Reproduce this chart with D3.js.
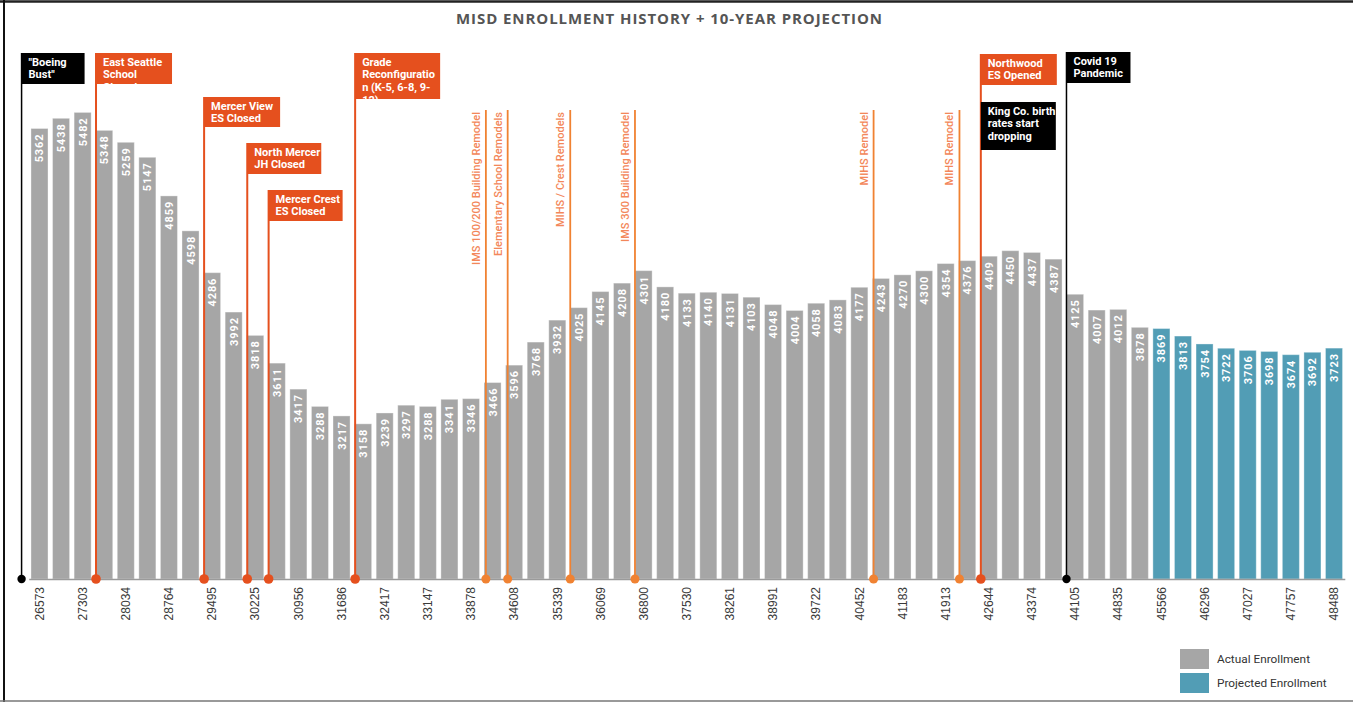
<!DOCTYPE html>
<html>
<head>
<meta charset="utf-8">
<script src="https://cdn.jsdelivr.net/npm/d3@7"></script>
<style>
	body { margin: 0; background: #fff; }
	svg { display: block; }
</style>
</head>
<body>
<svg id="chart" width="1353" height="702"></svg>
<script>
"use strict";

// Data: one bar per school year (Oct 1st), 1972 - 2032
const firstYear = 1972;
const actualEnrollment = [
	5362, 5438, 5482, 5348, 5259, 5147, 4859, 4598, 4286, 3992,
	3818, 3611, 3417, 3288, 3217, 3158, 3239, 3297, 3288, 3341,
	3346, 3466, 3596, 3768, 3932, 4025, 4145, 4208, 4301, 4180,
	4133, 4140, 4131, 4103, 4048, 4004, 4058, 4083, 4177, 4243,
	4270, 4300, 4354, 4376, 4409, 4450, 4437, 4387, 4125, 4007,
	4012, 3878
];
const projectedEnrollment = [3869, 3813, 3754, 3722, 3706, 3698, 3674, 3692, 3723];

// Tick labels (date serials, every second bar)
const tickLabels = [
	"26573", "27303", "28034", "28764", "29495", "30225", "30956", "31686",
	"32417", "33147", "33878", "34608", "35339", "36069", "36800", "37530",
	"38261", "38991", "39722", "40452", "41183", "41913", "42644", "43374",
	"44105", "44835", "45566", "46296", "47027", "47757", "48488"
];

// Events (year as fraction)
const events = [
	{year: 1971.17, kind: "black", lines: ["\"Boeing", "Bust\""]},
	{year: 1974.62, kind: "red", lines: ["East Seattle", "School", "Closed"]},
	{year: 1979.63, kind: "red", lines: ["Mercer View", "ES Closed"]},
	{year: 1981.63, kind: "red", lines: ["North Mercer", "JH Closed"]},
	{year: 1982.62, kind: "red", lines: ["Mercer Crest", "ES Closed"]},
	{year: 1986.63, kind: "red", lines: ["Grade", "Reconfiguratio", "n (K-5, 6-8, 9-", "12)"]},
	{year: 2015.63, kind: "red", lines: ["Northwood", "ES Opened"]},
	{year: 2015.63, kind: "black", lines: ["King Co. birth", "rates start", "dropping"], noLine: true},
	{year: 2019.6, kind: "black", lines: ["Covid 19", "Pandemic"]}
];
const remodels = [
	{year: 1992.69, label: "IMS 100/200 Building Remodel"},
	{year: 1993.7, label: "Elementary School Remodels"},
	{year: 1996.6, label: "MIHS / Crest Remodels"},
	{year: 1999.6, label: "IMS 300 Building Remodel"},
	{year: 2010.66, label: "MIHS Remodel"},
	{year: 2014.64, label: "MIHS Remodel"}
];

// Box layout for events (same order as events)
const eventBoxes = [
	{top: 53, w: 63, h: 31},
	{top: 53, w: 76, h: 31},
	{top: 97, w: 76, h: 30},
	{top: 143, w: 74, h: 31},
	{top: 190, w: 74, h: 31},
	{top: 53, w: 85, h: 46},
	{top: 54, w: 76, h: 31},
	{top: 102, w: 75, h: 48},
	{top: 52, w: 64, h: 31}
];

const colors = {
	actual: "#a6a6a6",
	projected: "#529db5",
	red: "#e5501e",
	black: "#000",
	remodel: "#f08232",
	remodelText: "#f3875a"
};

const svg = d3.select("#chart");
const baseY = 579;

const bars = actualEnrollment.map((v, i) => ({year: firstYear + i, value: v, type: "actual"}))
	.concat(projectedEnrollment.map((v, i) => ({year: firstYear + actualEnrollment.length + i, value: v, type: "projected"})));
const years = bars.map(d => d.year);

const x = d3.scaleBand()
	.domain(years)
	.range([28.7, 1344.8])
	.paddingInner(0.21)
	.paddingOuter(0.105);

const y = d3.scaleLinear()
	.domain([2000, 6000])
	.range([baseY, 43]);

// x position of a fractional year (centre of bar = Oct 1st)
const xYear = yr => x(firstYear) + x.bandwidth() / 2 + (yr - firstYear) * x.step();

// Frame
svg.append("line").attr("x1", 0).attr("x2", 1353).attr("y1", 1.5).attr("y2", 1.5)
	.attr("stroke", "#222").attr("stroke-width", 2.5);
svg.append("line").attr("x1", 4).attr("x2", 4).attr("y1", 0).attr("y2", 702)
	.attr("stroke", "#111").attr("stroke-width", 2);
svg.append("line").attr("x1", 0).attr("x2", 1353).attr("y1", 701).attr("y2", 701)
	.attr("stroke", "#777").attr("stroke-width", 1.5);

// Title
svg.append("text")
	.attr("x", 669)
	.attr("y", 23.5)
	.attr("text-anchor", "middle")
	.attr("textLength", 426)
	.attr("lengthAdjust", "spacing")
	.style("font-family", "'Open Sans', sans-serif")
	.style("font-weight", 700)
	.style("font-size", "15px")
	.style("fill", "#555")
	.text("MISD ENROLLMENT HISTORY + 10-YEAR PROJECTION");

// Bars
svg.append("g")
	.selectAll("rect")
	.data(bars)
	.enter()
	.append("rect")
	.attr("x", d => x(d.year))
	.attr("y", d => y(d.value))
	.attr("width", x.bandwidth())
	.attr("height", d => baseY - y(d.value))
	.style("fill", d => colors[d.type])
	.style("stroke", "#fff")
	.style("stroke-opacity", 0.35)
	.style("stroke-width", 1);

// Bar value labels
svg.append("g")
	.selectAll("text")
	.data(bars)
	.enter()
	.append("text")
	.attr("transform", d => `translate(${x(d.year) + x.bandwidth() / 2 + 4},${y(d.value) + 5}) rotate(-90)`)
	.attr("text-anchor", "end")
	.style("font-family", "Roboto, sans-serif")
	.style("font-weight", 700)
	.style("font-size", "11px")
	.style("letter-spacing", "0.9px")
	.style("fill", "#fff")
	.text(d => d.value);

// X axis
const xAxis = d3.axisBottom(x)
	.tickValues(years.filter((d, i) => i % 2 === 0))
	.tickFormat((d, i) => tickLabels[i])
	.tickSize(0)
	.tickSizeOuter(0);

const axisG = svg.append("g")
	.attr("transform", `translate(0,${baseY})`)
	.call(xAxis);
axisG.select(".domain").attr("stroke", "#9a9a9a").attr("stroke-width", 1.5);
axisG.selectAll("text")
	.attr("transform", "rotate(-90)")
	.attr("text-anchor", "end")
	.attr("x", -8)
	.attr("y", 0)
	.attr("dy", "0.35em")
	.style("font-family", "'Liberation Sans', Arial, sans-serif")
	.style("font-size", "12px")
	.style("fill", "#3a3a3a");

// Remodel lines
const remodelG = svg.append("g");
remodels.forEach(r => {
	const rx = xYear(r.year);
	remodelG.append("line")
		.attr("x1", rx).attr("x2", rx)
		.attr("y1", 110).attr("y2", baseY)
		.attr("stroke", colors.remodel)
		.attr("stroke-width", 1.8);
	remodelG.append("text")
		.attr("transform", `translate(${rx - 6},112) rotate(-90)`)
		.attr("text-anchor", "end")
		.style("font-family", "Roboto, sans-serif")
		.style("font-weight", 500)
		.style("font-size", "11px")
		.style("fill", colors.remodelText)
		.text(r.label);
	remodelG.append("circle")
		.attr("cx", rx).attr("cy", baseY).attr("r", 4.5)
		.style("fill", colors.remodel);
});

// Event lines and boxes
const defs = svg.append("defs");
const eventG = svg.append("g");
events.forEach((e, i) => {
	const ex = xYear(e.year);
	const box = eventBoxes[i];
	const col = colors[e.kind];
	if (!e.noLine) {
		eventG.append("line")
			.attr("x1", ex).attr("x2", ex)
			.attr("y1", box.top).attr("y2", baseY)
			.attr("stroke", col)
			.attr("stroke-width", e.kind === "black" ? 1.5 : 2);
		eventG.append("circle")
			.attr("cx", ex).attr("cy", baseY).attr("r", e.kind === "black" ? 4.2 : 4.8)
			.style("fill", col);
	}
	eventG.append("rect")
		.attr("x", ex).attr("y", box.top)
		.attr("width", box.w).attr("height", box.h)
		.style("fill", col);

	// text is cut at the box bottom
	defs.append("clipPath").attr("id", "clip-" + i)
		.append("rect")
		.attr("x", ex).attr("y", box.top)
		.attr("width", box.w).attr("height", box.h + 2);

	eventG.append("text")
		.attr("clip-path", `url(#clip-${i})`)
		.style("font-family", "Roboto, sans-serif")
		.style("font-weight", 700)
		.style("font-size", "11px")
		.style("fill", "#fff")
		.selectAll("tspan")
		.data(e.lines)
		.enter()
		.append("tspan")
		.attr("x", ex + 7)
		.attr("y", (d, j) => box.top + 12.5 + j * 12.8)
		.text(d => d);
});

// Legend
const legend = [
	{label: "Actual Enrollment", color: colors.actual},
	{label: "Projected Enrollment", color: colors.projected}
];
const legendG = svg.append("g").attr("transform", "translate(1180,649)");
legendG.selectAll("rect")
	.data(legend)
	.enter()
	.append("rect")
	.attr("x", 0)
	.attr("y", (d, i) => i * 24)
	.attr("width", 29)
	.attr("height", 20)
	.style("fill", d => d.color);
legendG.selectAll("text")
	.data(legend)
	.enter()
	.append("text")
	.attr("x", 37)
	.attr("y", (d, i) => i * 24 + 10)
	.attr("dy", "0.35em")
	.style("font-family", "Roboto, sans-serif")
	.style("font-size", "11.8px")
	.style("fill", "#333")
	.text(d => d.label);
</script>
</body>
</html>
